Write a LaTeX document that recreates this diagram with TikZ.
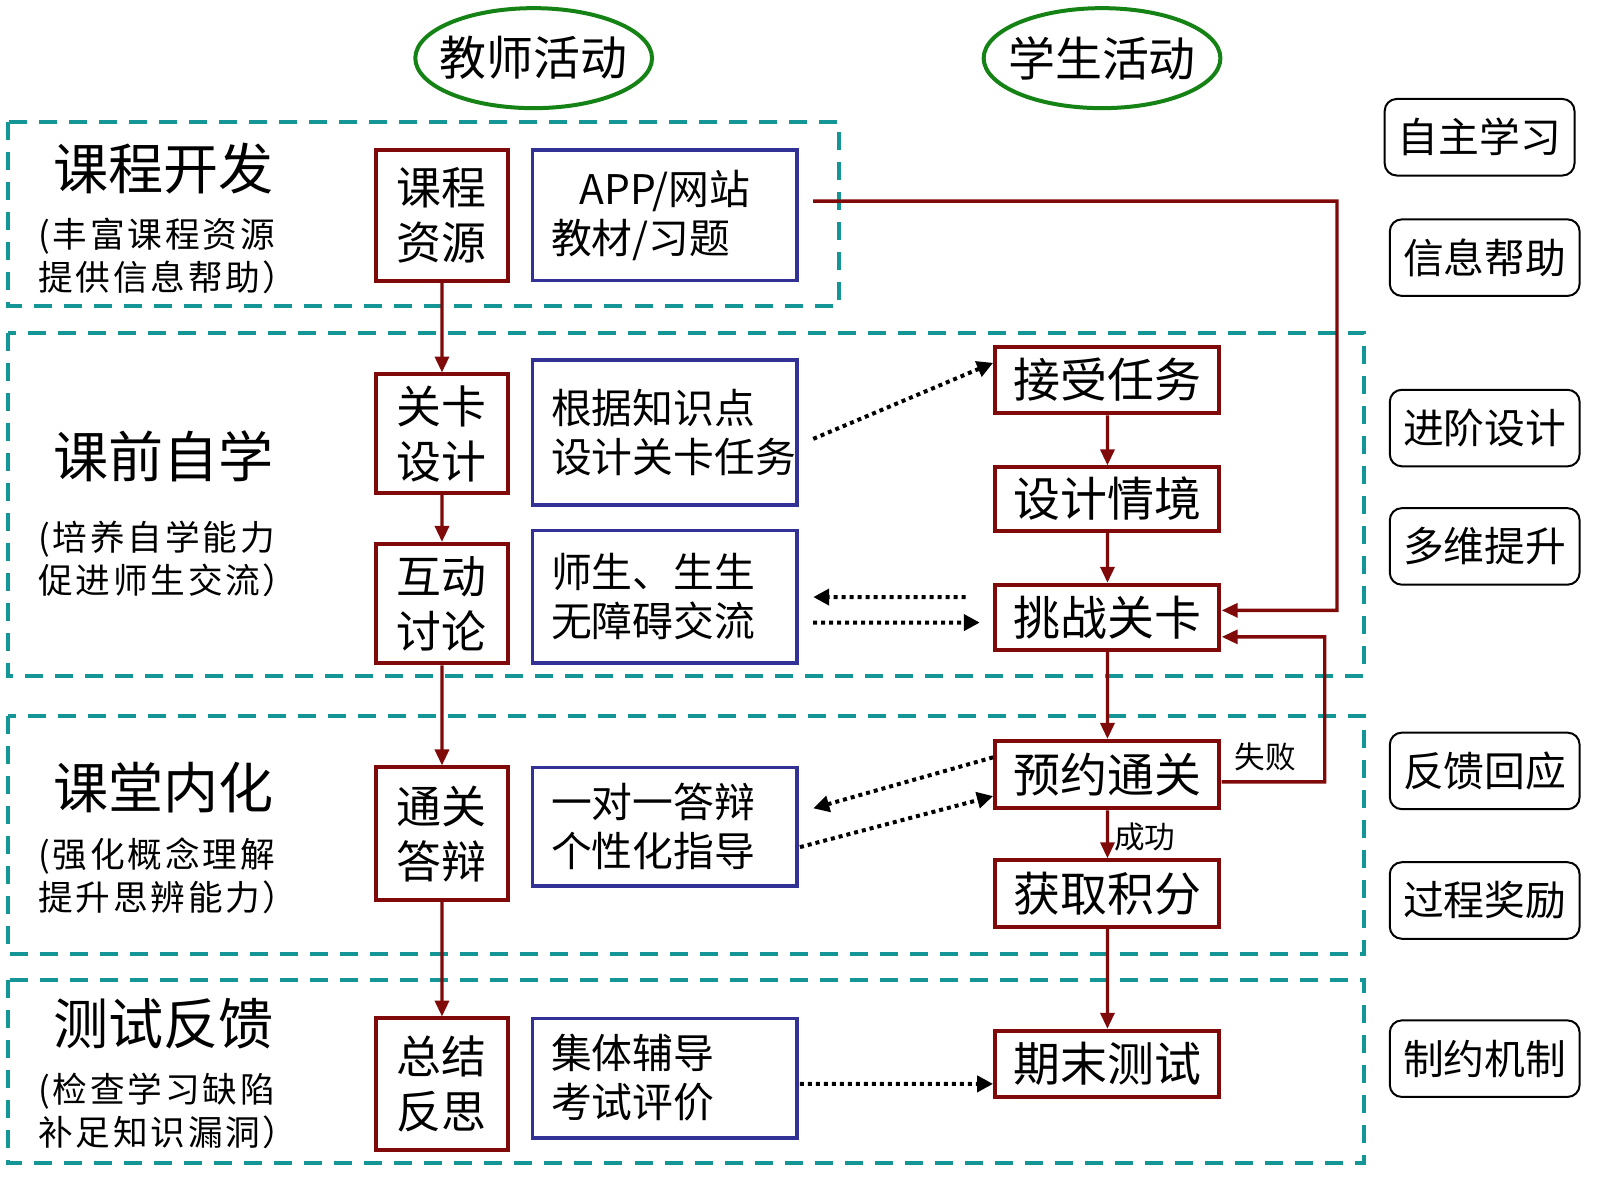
\documentclass[tikz,border=0pt]{standalone}
\usepackage{fontspec}
\setmainfont{Noto Sans CJK SC}
\newfontfamily\spacedcjk[LetterSpace=8]{Noto Sans CJK SC}
\usetikzlibrary{arrows.meta,calc,shapes.geometric}
\definecolor{dred}{RGB}{128,10,10}
\definecolor{dblue}{RGB}{50,50,150}
\definecolor{teal2}{RGB}{20,150,150}
\definecolor{green2}{RGB}{20,130,20}
\tikzset{
  zone/.style={draw=teal2,line width=2pt,dash pattern=on 9pt off 6pt},
  tbox/.style={draw=dred,line width=2pt,minimum width=65pt,inner sep=0pt,align=center,font=\fontsize{22}{27}\selectfont},
  bbox/.style={draw=dblue,line width=1.8pt,minimum width=129.5pt,text width=111.5pt,inner xsep=9pt,inner ysep=0pt,align=left,font=\fontsize{20}{24}\selectfont},
  sbox/.style={draw=dred,line width=2pt,minimum width=110pt,inner sep=0pt,font=\fontsize{23}{27}\selectfont},
  rbox/.style={draw=black,line width=1pt,rounded corners=6pt,minimum width=93pt,minimum height=37.5pt,inner sep=0pt,font=\fontsize{20}{24}\selectfont},
  ell/.style={ellipse,draw=green2,line width=2pt,minimum width=116pt,minimum height=49pt,inner xsep=-5pt,inner ysep=0pt,font=\fontsize{23}{26}\selectfont},
  biglab/.style={font=\fontsize{27}{32}\selectfont,inner sep=0pt},
  sublab/.style={font=\spacedcjk\fontsize{17}{21}\selectfont,align=left,inner sep=0pt,anchor=west},
  redarr/.style={draw=dred,line width=1.7pt,-{Triangle[length=8pt,width=7pt]}},
  dotarr/.style={draw=black,line width=2pt,dash pattern=on 2pt off 2pt,-{Triangle[length=8pt,width=8pt]}},
  small/.style={font=\fontsize{15}{18}\selectfont,inner sep=0pt}
}
\begin{document}
\begin{tikzpicture}[x=0.5pt,y=-0.5pt,scale=1.0204,transform shape]
\fill[white] (0,0) rectangle (1568,1160.3);
% zones
\draw[zone] (8,120) rectangle (822,300);
\draw[zone] (8,326) rectangle (1337,662);
\draw[zone] (8,702) rectangle (1337,935);
\draw[zone] (8,960) rectangle (1337,1140);
% headers
\node[ell] (th) at (523,57) {教师活动};
\node[ell] (st) at (1080,57) {学生活动};
% left labels
\node[biglab] (l1) at (160,165) {课程开发};
\node[sublab] (s1) at (37,251) {(丰富课程资源\\提供信息帮助）};
\node[biglab] (l2) at (160,447) {课前自学};
\node[sublab] (s2) at (37,548) {(培养自学能力\\促进师生交流）};
\node[biglab] (l3) at (160,772) {课堂内化};
\node[sublab] (s3) at (37,858) {(强化概念理解\\提升思辨能力）};
\node[biglab] (l4) at (160,1003) {测试反馈};
\node[sublab] (s4) at (37,1089) {(检查学习缺陷\\补足知识漏洞）};
% teacher boxes
\node[tbox,minimum height=64pt] (kczy) at (433,211) {课程\\资源};
\node[tbox,minimum height=58pt] (gksj) at (433,425) {关卡\\设计};
\node[tbox,minimum height=58.5pt] (hdtl) at (433,591.5) {互动\\讨论};
\node[tbox,minimum height=65pt] (tgdb) at (433,817) {通关\\答辩};
\node[tbox,minimum height=64.5pt] (zjfs) at (433,1062.5) {总结\\反思};
% blue boxes
\node[bbox,minimum height=64pt] (app) at (651.5,211) {\hspace*{14pt}APP/网站\\教材/习题};
\node[bbox,minimum height=71pt] (gjzs) at (651.5,424) {根据知识点\\设计关卡任务};
\node[bbox,minimum height=65pt] (ss) at (651.5,585) {师生、生生\\无障碍交流};
\node[bbox,minimum height=58pt] (yd) at (651.5,810) {一对一答辩\\个性化指导};
\node[bbox,minimum height=58.5pt] (jt) at (651.5,1056.5) {集体辅导\\考试评价};
% student boxes
\node[sbox,minimum height=32.5pt] (jsrw) at (1085,372.5) {接受任务};
\node[sbox,minimum height=31pt] (sjqj) at (1085,489) {设计情境};
\node[sbox,minimum height=32pt] (tzgk) at (1085,605) {挑战关卡};
\node[sbox,minimum height=33pt] (ytg) at (1085,759) {预约通关};
\node[sbox,minimum height=32.5pt] (hqjf) at (1085,875.5) {获取积分};
\node[sbox,minimum height=32.5pt] (qmcs) at (1085,1042.5) {期末测试};
% right boxes
\node[rbox] (zzxx) at (1450,134.5) {自主学习};
\node[rbox] (xxbz) at (1455,252.5) {信息帮助};
\node[rbox] (jjsj) at (1455,419.5) {进阶设计};
\node[rbox] (dwts) at (1455,535.5) {多维提升};
\node[rbox] (fkhy) at (1455,755.5) {反馈回应};
\node[rbox] (gcjl) at (1455,882.5) {过程奖励};
\node[rbox] (zyjz) at (1455,1037.5) {制约机制};
% labels
\node[small] (fail) at (1240,742) {失败};
\node[small] (succ) at (1122,820) {成功};
% teacher chain
\draw[redarr] (kczy) -- (gksj);
\draw[redarr] (gksj) -- (hdtl);
\draw[redarr] (hdtl) -- (tgdb);
\draw[redarr] (tgdb) -- (zjfs);
% student chain
\draw[redarr] (jsrw) -- (sjqj);
\draw[redarr] (sjqj) -- (tzgk);
\draw[redarr] (tzgk) -- (ytg);
\draw[redarr] (ytg) -- (hqjf);
\draw[redarr] (hqjf) -- (qmcs);
% app link
\coordinate (appc) at (1310,197);
\draw[redarr] ($(app.east)+(14,-14)$) -- (appc) |- ($(tzgk.east)+(0,-7)$);
% fail loop
\coordinate (failc) at (1298,766);
\draw[redarr] ($(ytg.east)+(0,7)$) -- (failc) |- ($(tzgk.east)+(0,19)$);
% dotted
\draw[dotarr] ($(gjzs.east)+(14,6)$) -- ($(jsrw.west)+(0,-17)$);
\draw[dotarr] ($(tzgk.west)+(-27,-20)$) -- ($(ss.east)+(14,0)$);
\draw[dotarr] ($(ss.east)+(14,25)$) -- ($(tzgk.west)+(-13,5)$);
\draw[dotarr] ($(ytg.west)+(0,-17)$) -- ($(yd.east)+(14,-18)$);
\draw[dotarr] ($(yd.east)+(1,20)$) -- ($(ytg.west)+(0,21)$);
\draw[dotarr] ($(jt.east)+(1,5.5)$) -- ($(qmcs.west)+(0,19.5)$);
\pgfresetboundingbox
\useasboundingbox (0,0) rectangle (1568,1160.3);
\end{tikzpicture}
\end{document}
